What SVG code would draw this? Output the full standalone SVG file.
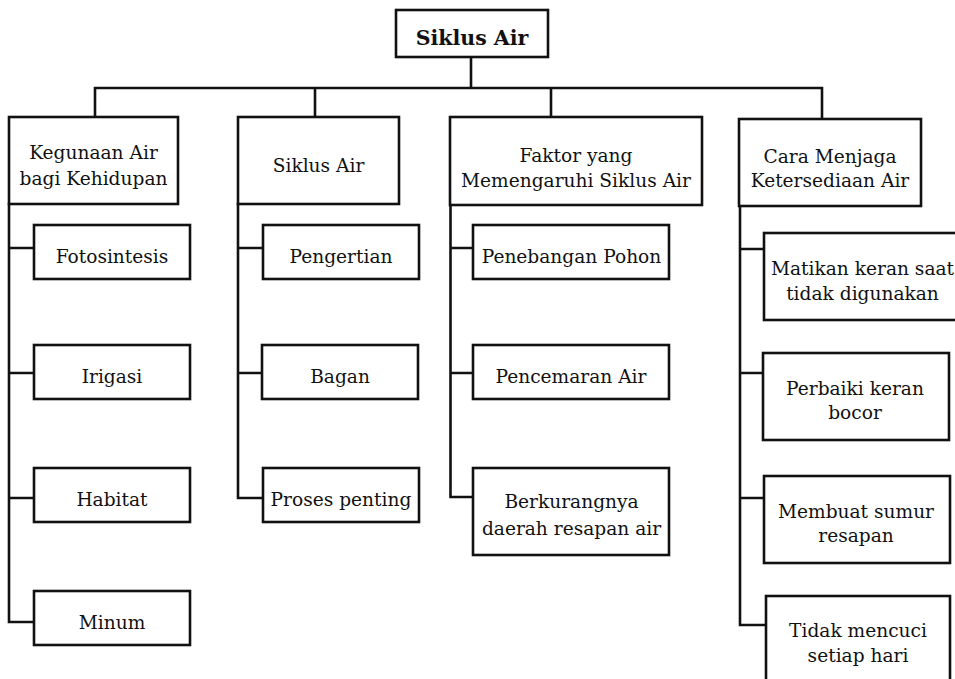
<svg xmlns="http://www.w3.org/2000/svg" width="955" height="679" viewBox="0 0 955 679">
<style>
.box{fill:#fff;stroke:#111;stroke-width:2.6}
.ln{fill:none;stroke:#111;stroke-width:2.6;stroke-linecap:square}
text{font-family:"DejaVu Serif","Liberation Serif",serif;font-size:18.6px;fill:#111;text-anchor:middle}
.title{font-weight:bold;font-size:20.5px}
</style>
<rect width="955" height="679" fill="#fff"/>
<g id="connectors">
<path class="ln" d="M471,57V88M95,88H822M95,88V117M315,88V117M551,88V117M822,88V119"/>
<path class="ln" d="M9,204V622H34M9,248H34M9,373H34M9,498H34"/>
<path class="ln" d="M238,204V498H263M238,248H263M238,373H262"/>
<path class="ln" d="M450.5,205V497H473M450.5,248H473M450.5,373H473"/>
<path class="ln" d="M740,206V625H766M740,249H764M740,373H763M740,498H764"/>
</g>
<g id="root"><rect class="box" x="396" y="10" width="152" height="47"/><text class="title" x="472" y="45">Siklus Air</text></g>
<g id="c1"><rect class="box" x="9" y="117" width="169" height="87"/><text x="93.5" y="159">Kegunaan Air</text><text x="93.5" y="185">bagi Kehidupan</text></g>
<g id="c2"><rect class="box" x="238" y="117" width="161" height="87"/><text x="318.5" y="172">Siklus Air</text></g>
<g id="c3"><rect class="box" x="450" y="117" width="252" height="88"/><text x="576" y="162">Faktor yang</text><text x="576" y="187">Memengaruhi Siklus Air</text></g>
<g id="c4"><rect class="box" x="739" y="119" width="182" height="87"/><text x="830" y="163">Cara Menjaga</text><text x="830" y="187">Ketersediaan Air</text></g>
<g id="c1a"><rect class="box" x="34" y="225" width="156" height="54"/><text x="112" y="263">Fotosintesis</text></g>
<g id="c1b"><rect class="box" x="34" y="345" width="156" height="54"/><text x="112" y="383">Irigasi</text></g>
<g id="c1c"><rect class="box" x="34" y="468" width="156" height="54"/><text x="112" y="506">Habitat</text></g>
<g id="c1d"><rect class="box" x="34" y="591" width="156" height="54"/><text x="112" y="629">Minum</text></g>
<g id="c2a"><rect class="box" x="263" y="225" width="156" height="54"/><text x="341" y="263">Pengertian</text></g>
<g id="c2b"><rect class="box" x="262" y="345" width="156" height="54"/><text x="340" y="383">Bagan</text></g>
<g id="c2c"><rect class="box" x="263" y="468" width="156" height="54"/><text x="341" y="506">Proses penting</text></g>
<g id="c3a"><rect class="box" x="473" y="225" width="196" height="54"/><text x="571.5" y="263">Penebangan Pohon</text></g>
<g id="c3b"><rect class="box" x="473" y="345" width="196" height="54"/><text x="571" y="383">Pencemaran Air</text></g>
<g id="c3c"><rect class="box" x="473" y="468" width="196" height="87"/><text x="571.5" y="508">Berkurangnya</text><text x="571.5" y="535">daerah resapan air</text></g>
<g id="c4a"><rect class="box" x="764" y="233" width="200" height="87"/><text x="862.5" y="275">Matikan keran saat</text><text x="862.5" y="300">tidak digunakan</text></g>
<g id="c4b"><rect class="box" x="763" y="353" width="186" height="87"/><text x="855" y="395">Perbaiki keran</text><text x="855" y="419">bocor</text></g>
<g id="c4c"><rect class="box" x="764" y="476" width="186" height="87"/><text x="856" y="518">Membuat sumur</text><text x="856" y="542">resapan</text></g>
<g id="c4d"><rect class="box" x="766" y="596" width="184" height="100"/><text x="858" y="637">Tidak mencuci</text><text x="858" y="662">setiap hari</text></g>
</svg>
